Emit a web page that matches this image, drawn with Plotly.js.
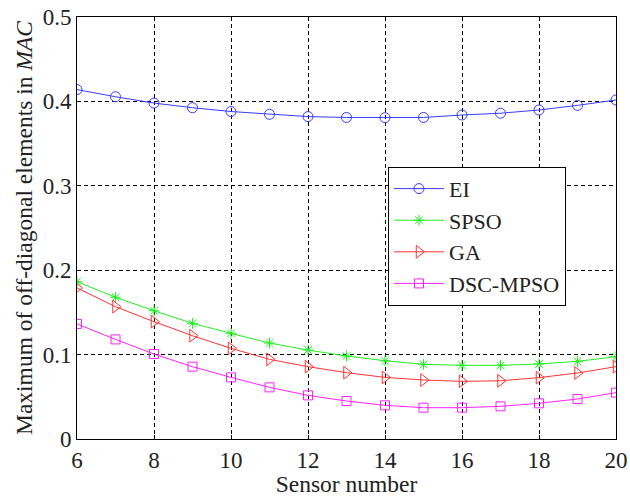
<!DOCTYPE html>
<html><head><meta charset="utf-8">
<script src="https://cdn.plot.ly/plotly-3.0.1.min.js"></script>
<style>body{margin:0;background:#fff}#chart{width:630px;height:497px}</style>
</head><body><div id="chart"></div>
<script>
const sensorNumbers = [6,7,8,9,10,11,12,13,14,15,16,17,18,19,20];
const eiValues   = [0.414,0.4055,0.398,0.3925,0.388,0.3847,0.382,0.381,0.3807,0.381,0.3839,0.386,0.3898,0.3953,0.4017];
const spsoValues = [0.1864,0.1679,0.152,0.137,0.1252,0.1137,0.1054,0.0983,0.0928,0.0885,0.0873,0.0873,0.0889,0.092,0.0975];
const gaValues   = [0.179,0.1568,0.139,0.1224,0.1074,0.0944,0.0857,0.0786,0.073,0.0699,0.0683,0.069,0.0727,0.0782,0.0857];
const dscValues  = [0.1363,0.118,0.1007,0.0857,0.073,0.0612,0.0517,0.045,0.0399,0.0371,0.0371,0.0387,0.0423,0.0474,0.0549];
const seriesNames = ['EI','SPSO','GA','DSC-MPSO'];
const xTicks = [6,8,10,12,14,16,18,20];
const yTicks = [0,0.1,0.2,0.3,0.4,0.5];
const yTickLabels = ['0','0.1','0.2','0.3','0.4','0.5'];

const font = "'Liberation Serif', 'Times New Roman', Times, serif";
function tr(y, name, color, symbol, size){
  return {x: sensorNumbers, y: y, name: name, type:'scatter', mode:'lines+markers',
    line:{color:color, width:1},
    marker:{symbol:symbol, size:size, color:color, line:{color:color, width:1}}};
}
const data = [
  tr(eiValues, seriesNames[0], '#3b3bff', 'circle-open', 10),
  tr(spsoValues, seriesNames[1], '#22ee22', 'asterisk-open', 9),
  tr(gaValues, seriesNames[2], '#ff3333', 'triangle-right-open', 11),
  tr(dscValues, seriesNames[3], '#ff22ff', 'square-open', 9)
];
const layout = {
  width:630, height:497,
  margin:{l:77, r:14, t:17, b:58},
  paper_bgcolor:'#fff', plot_bgcolor:'#fff',
  font:{family:font, size:23, color:'#222'},
  showlegend:true,
  legend:{x:0.577, y:0.645, xanchor:'left', yanchor:'top', bgcolor:'#fff',
    bordercolor:'#000', borderwidth:1, font:{family:font, size:22, color:'#222'},
    tracegroupgap:0, itemwidth:50},
  xaxis:{range:[6,20], tickvals:xTicks, ticktext:xTicks.map(String),
    showgrid:true, gridcolor:'#000', griddash:'4px,3px', gridwidth:1,
    showline:true, linecolor:'#000', linewidth:1, mirror:true,
    ticks:'inside', ticklen:4, tickcolor:'#000', zeroline:false,
    tickfont:{family:font, size:23, color:'#222'},
    title:{text:'Sensor number', font:{family:font, size:23.5, color:'#222'}, standoff:0}},
  yaxis:{range:[0,0.5], tickvals:yTicks, ticktext:yTickLabels,
    showgrid:true, gridcolor:'#000', griddash:'4px,3px', gridwidth:1,
    showline:true, linecolor:'#000', linewidth:1, mirror:true,
    ticks:'inside', ticklen:4, tickcolor:'#000', zeroline:false,
    tickfont:{family:font, size:23, color:'#222'},
    title:{text:'Maximum of off-diagonal elements in <i>MAC</i>', font:{family:font, size:23.5, color:'#222'}, standoff:3}}
};
Plotly.newPlot('chart', data, layout, {displayModeBar:false, staticPlot:true});
</script></body></html>
